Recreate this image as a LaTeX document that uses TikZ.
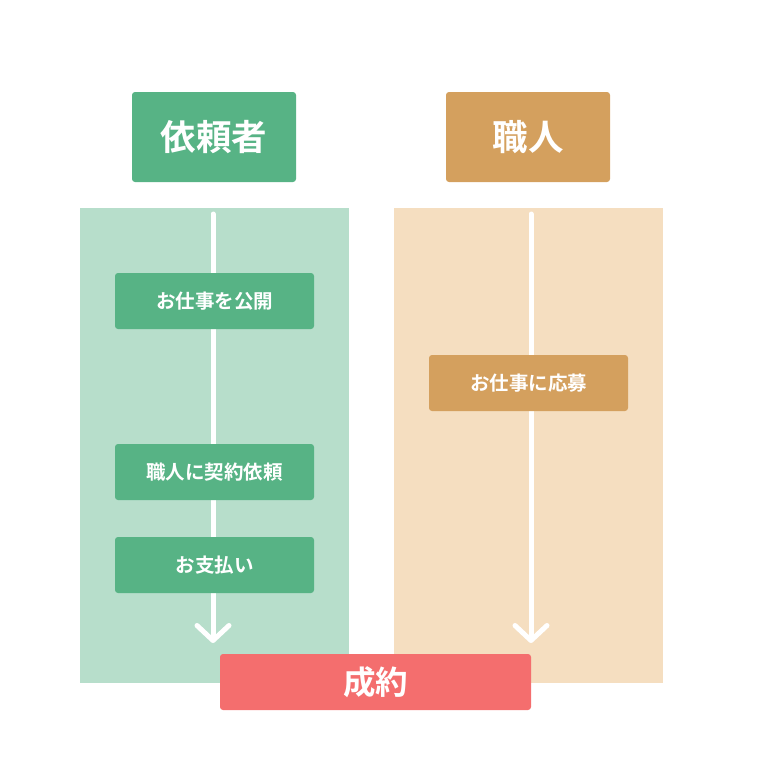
\documentclass[tikz,border=0pt]{standalone}
\usepackage{fontspec}
\newfontfamily\jpfont{Noto Sans CJK JP}[BoldFont={* Bold}]
\usepackage{tikz}
\usetikzlibrary{arrows.meta, positioning}

\definecolor{clientgreen}{HTML}{57B385}
\definecolor{clientpale}{HTML}{B7DECB}
\definecolor{crafttan}{HTML}{D4A05E}
\definecolor{craftpale}{HTML}{F5DEC0}
\definecolor{dealred}{HTML}{F46E6E}

\tikzset{
  headbox/.style={rounded corners=3pt, text=white, minimum width=164pt, minimum height=90pt, font=\jpfont\bfseries\fontsize{35.5}{35.5}\selectfont},
  stepbox/.style={rounded corners=3pt, text=white, minimum width=199pt, minimum height=56pt, font=\jpfont\bfseries\fontsize{19.5}{19.5}\selectfont},
  flow/.style={white, line width=5pt, line cap=round, -{Straight Barb[length=15pt, width=32pt, line width=5pt, round]}}
}

\begin{document}
\begin{tikzpicture}[x=1pt, y=-1pt]
\useasboundingbox (0,0) rectangle (762,771);

% Columns
\fill[clientpale] (80,208) rectangle (349,683);
\fill[craftpale] (394,208) rectangle (663,683);

% Flow lines
\coordinate (ctop) at (213,214);
\coordinate (cend) at (213,643);
\coordinate (wtop) at (531,214);
\coordinate (wend) at (531,643);
\draw[flow] (ctop) -- (cend);
\draw[flow] (wtop) -- (wend);

% Headers
\node[headbox, fill=clientgreen] (client) at (214,137) {依頼者};
\node[headbox, fill=crafttan] (worker) at (528,137) {職人};

% Client steps
\node[stepbox, fill=clientgreen] (publish) at (214.5,301) {お仕事を公開};
\node[stepbox, fill=clientgreen] (request) at (214.5,472) {職人に契約依頼};
\node[stepbox, fill=clientgreen] (pay) at (214.5,565) {お支払い};

% Worker step
\node[stepbox, fill=crafttan] (apply) at (528.5,383) {お仕事に応募};

% Contract
\node[stepbox, fill=dealred, minimum width=311pt, font=\jpfont\bfseries\fontsize{32.5}{32.5}\selectfont] (deal) at (375.5,682) {成約};

\end{tikzpicture}
\end{document}
